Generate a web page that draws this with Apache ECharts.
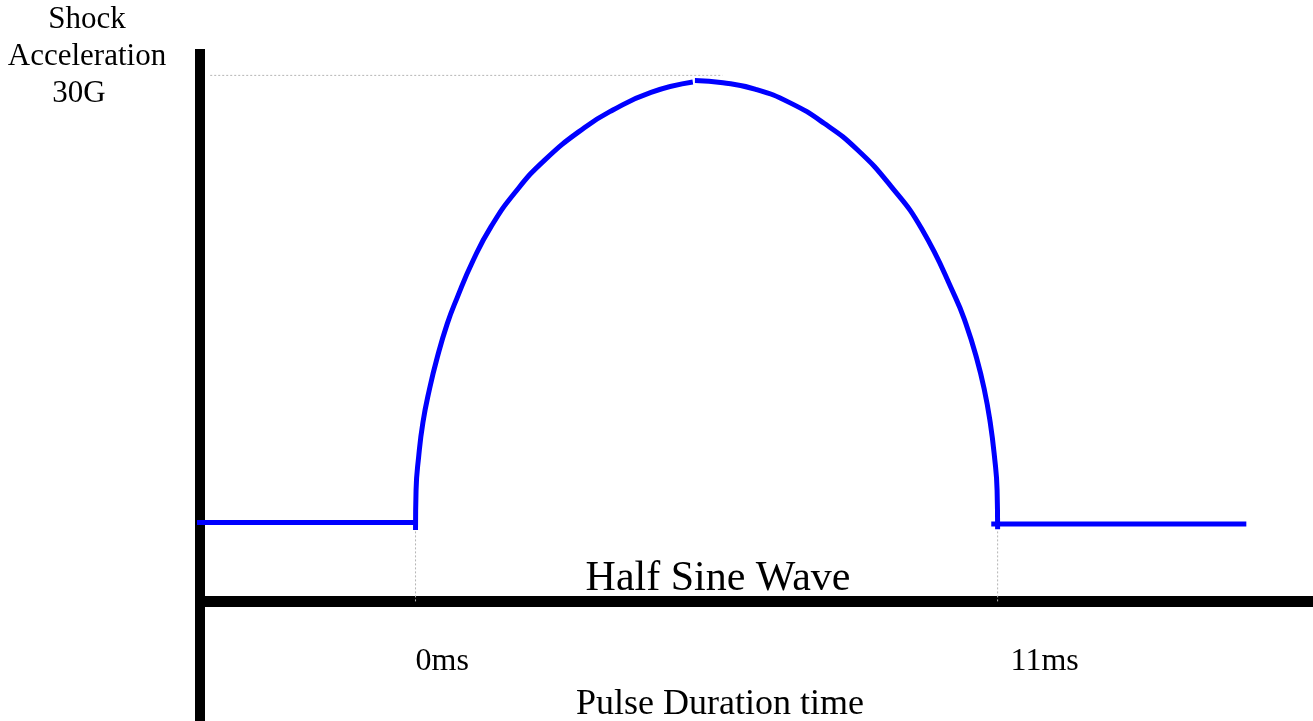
<!DOCTYPE html>
<html>
<head>
<meta charset="utf-8">
<title>Half Sine Wave</title>
<script src="https://cdn.jsdelivr.net/npm/echarts@6/dist/echarts.min.js"></script>
<style>
  html, body { margin: 0; padding: 0; background: #fff; }
  #main { width: 1313px; height: 721px; }
</style>
</head>
<body>
<div id="main"></div>
<script>
// 数据：时间(ms) / 加速度(G)
var baseBefore = [[-4.15, 0], [0, 0]];
var baseAfter = [[10.88, -0.1], [15.7, -0.1]];
// 上升沿
var riseTime = [0, 0.01, 0.06, 0.14, 0.26, 0.41, 0.60, 0.78, 1.09, 1.43, 1.88, 2.44, 3.19, 3.73, 4.45, 5.24];
var riseAcc = [-0.5, 2.2, 4.5, 6.8, 9.0, 11.2, 13.5, 15.2, 17.8, 20.1, 22.4, 24.6, 26.8, 28.0, 29.2, 29.9];
// 下降沿
var fallTime = [5.28, 5.81, 6.43, 7.07, 7.72, 8.35, 8.99, 9.57, 10.20, 10.40, 10.60, 10.75, 10.86, 10.94, 10.99, 11.0];
var fallAcc = [30.0, 29.85, 29.4, 28.5, 27.1, 25.3, 22.8, 19.9, 15.3, 13.5, 11.2, 9.0, 6.8, 4.5, 2.2, -0.45];
// 刻度
var tickTimes = [0, 11];
var tickLabels = ['0ms', '11ms'];
// 虚线辅助线
var peakGuide = [[-3.88, 30.35], [5.8, 30.35]];
var startGuide = [[0, -0.6], [0, -5.36]];
var endGuide = [[11, -0.6], [11, -5.36]];

(function() {
  var myChart = echarts.init(document.getElementById('main'));
  var serif = 'Liberation Serif';

  function zip(xs, ys) {
    return xs.map(function(x, i) { return [x, ys[i]]; });
  }

  var blue = { color: '#0000ff', width: 5, cap: 'butt' };
  var dotted = { color: '#b5b5b5', width: 1, type: [2, 2] };

  function guide(data) {
    return { type: 'line', data: data, symbol: 'none', silent: true, lineStyle: dotted, z: 1 };
  }

  function title(text, left, top, size) {
    return {
      text: text, left: left, top: top, textAlign: 'center', padding: 0,
      textStyle: { fontFamily: serif, fontSize: size, fontWeight: 'normal', color: '#000' }
    };
  }

  var option = {
    animation: false,
    backgroundColor: '#fff',
    title: [
      title('Shock', 87, 4, 31),
      title('Acceleration', 87, 41, 31),
      title('30G', 79, 78, 31),
      title('Half Sine Wave', 718, 558, 42),
      title('Pulse Duration time', 720, 687, 36)
    ],
    grid: { left: 200, right: 0, top: 49, bottom: 0 },
    xAxis: {
      type: 'value',
      min: -4.073,
      max: 16.96,
      position: 'bottom',
      offset: -119.5,
      axisLine: { show: true, onZero: false, lineStyle: { color: '#000', width: 11, cap: 'butt' } },
      axisTick: { show: false },
      splitLine: { show: false },
      axisLabel: {
        customValues: tickTimes,
        margin: 44,
        align: 'left',
        formatter: function(v) {
          var i = tickTimes.indexOf(v);
          return i === 0 ? '{a|' + tickLabels[i] + '}' : '{b|' + tickLabels[i] + '}';
        },
        rich: {
          a: { fontFamily: serif, fontSize: 32, color: '#000', padding: [0, 0, 0, 0] },
          b: { fontFamily: serif, fontSize: 32, color: '#000', padding: [0, 0, 0, 13] }
        }
      }
    },
    yAxis: {
      type: 'value',
      min: -13.47,
      max: 32.14,
      axisLine: { show: true, onZero: false, lineStyle: { color: '#000', width: 10, cap: 'butt' } },
      axisTick: { show: false },
      axisLabel: { show: false },
      splitLine: { show: false }
    },
    series: [
      guide(peakGuide),
      guide(startGuide),
      guide(endGuide),
      { type: 'line', data: baseBefore, symbol: 'none', clip: false, lineStyle: blue, z: 3 },
      { type: 'line', data: baseAfter, symbol: 'none', clip: false, lineStyle: blue, z: 3 },
      { type: 'line', data: zip(riseTime, riseAcc), symbol: 'none', smooth: 0.5, lineStyle: blue, z: 3 },
      { type: 'line', data: zip(fallTime, fallAcc), symbol: 'none', smooth: 0.5, lineStyle: blue, z: 3 }
    ]
  };
  myChart.setOption(option);
  window.addEventListener('resize', function() {
    myChart.resize();
  });
})();
</script>
</body>
</html>
